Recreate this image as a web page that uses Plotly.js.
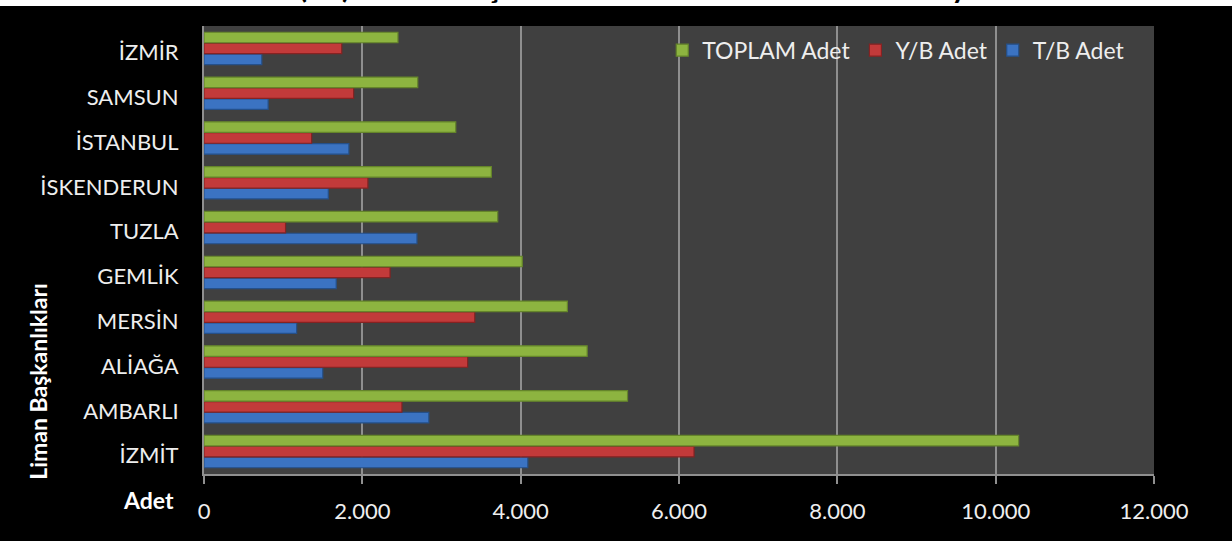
<!DOCTYPE html>
<html>
<head>
<meta charset="utf-8">
<script src="https://cdn.plot.ly/plotly-3.0.1.min.js"></script>
<style>
  html, body { margin: 0; padding: 0; background: #ffffff; }
  #chart { width: 1232px; height: 541px; }
</style>
</head>
<body>
<div id="chart"></div>
<script>
// Categories listed bottom to top (as drawn)
const ports = ["İZMİT", "AMBARLI", "ALİAĞA", "MERSİN", "GEMLİK", "TUZLA", "İSKENDERUN", "İSTANBUL", "SAMSUN", "İZMİR"];
const tbAdet     = [4090, 2840, 1500, 1170, 1670, 2690, 1570, 1830, 810, 730];
const ybAdet     = [6190, 2500, 3330, 3420, 2350, 1030, 2070, 1360, 1890, 1740];
const toplamAdet = [10290, 5350, 4840, 4590, 4020, 3710, 3630, 3180, 2700, 2450];
const seriesNames = ["T/B Adet", "Y/B Adet", "TOPLAM Adet"];
const xTicks = [0, 2000, 4000, 6000, 8000, 10000, 12000];
const titleText = "Grafik (10): Liman Başkanlıklarına Göre Yabancı Gemi Sayıları";
const yTitleText = "Liman Başkanlıkları";
const xTitleText = "Adet";

const FONT = "Lato, 'Open Sans', sans-serif";

function bar(name, vals, color, line) {
  return {
    type: "bar", orientation: "h", name: name,
    y: ports, x: vals,
    marker: { color: color, line: { color: line, width: 1.2 } },
    hoverinfo: "x+y+name"
  };
}

const data = [
  bar(seriesNames[0], tbAdet, "#3b73c2", "#25508a"),
  bar(seriesNames[1], ybAdet, "#c23a3a", "#862222"),
  bar(seriesNames[2], toplamAdet, "#8db440", "#65852a")
];

const layout = {
  width: 1232, height: 541,
  paper_bgcolor: "#000000",
  plot_bgcolor: "#404040",
  separators: ",.",
  margin: { l: 204, r: 78, t: 26, b: 67 },
  barmode: "group",
  bargap: 0.27,
  bargroupgap: 0.04,
  font: { family: FONT, size: 22, color: "#eeeeee" },
  xaxis: {
    range: [0, 12000],
    tickvals: xTicks,
    tickformat: ",d",
    showgrid: true, gridcolor: "#8f8f8f", gridwidth: 2,
    zeroline: false,
    showline: true, linecolor: "#8f8f8f", linewidth: 2,
    ticks: "outside", ticklen: 8, tickcolor: "#8f8f8f", tickwidth: 2,
    ticklabelstandoff: 9,
    tickfont: { family: FONT, size: 22, color: "#eeeeee" },
    fixedrange: true
  },
  yaxis: {
    type: "category",
    showgrid: false, zeroline: false,
    showline: true, linecolor: "#8f8f8f", linewidth: 2,
    ticks: "",
    ticklabelstandoff: 19,
    ticklabelshift: 4,
    tickfont: { family: FONT, size: 22, color: "#eeeeee" },
    fixedrange: true
  },
  legend: {
    orientation: "h",
    traceorder: "reversed",
    x: 0.975, xanchor: "right",
    y: 0.946, yanchor: "middle",
    bgcolor: "rgba(0,0,0,0)",
    font: { family: FONT, size: 23, color: "#eeeeee" },
    itemwidth: 30
  },
  shapes: [
    { type: "rect", xref: "paper", yref: "paper", layer: "above",
      x0: -0.25, x1: 1.1, y0: 1 + 20 / 448, y1: 1.2,
      fillcolor: "#ffffff", line: { width: 0 } }
  ],
  annotations: [
    { text: "<b>" + titleText + "</b>", xref: "paper", yref: "paper",
      x: 0.43, y: 1, xanchor: "center", yanchor: "bottom", yshift: 20,
      showarrow: false, font: { family: FONT, size: 30, color: "#000000" } },
    { text: "<b>" + yTitleText + "</b>", xref: "paper", yref: "paper",
      x: -0.175, y: 0.2076, xanchor: "center", yanchor: "middle", textangle: -90,
      showarrow: false, font: { family: FONT, size: 23, color: "#ffffff" } },
    { text: "<b>" + xTitleText + "</b>", xref: "paper", yref: "paper",
      x: -0.03, y: -0.058, xanchor: "right", yanchor: "middle",
      showarrow: false, font: { family: FONT, size: 23, color: "#ffffff" } }
  ],
  showlegend: true
};

Plotly.newPlot("chart", data, layout, { displayModeBar: false, staticPlot: true });
</script>
</body>
</html>
